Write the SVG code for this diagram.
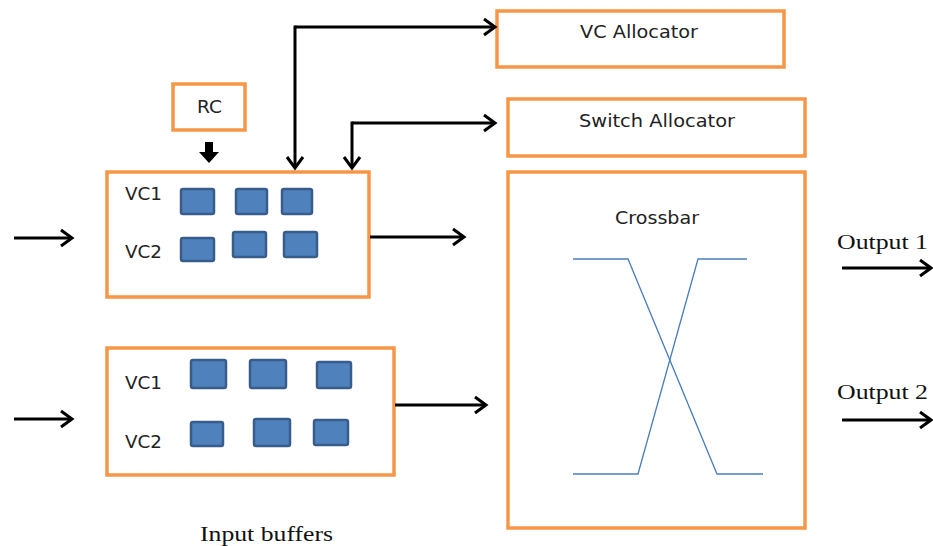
<svg xmlns="http://www.w3.org/2000/svg" width="933" height="546" viewBox="0 0 933 546">
<defs>
<style>
.box{fill:#fff;stroke:#f79646;stroke-width:3.5}
.sq{fill:#4f81bd;stroke:#385d8a;stroke-width:2.5}
.t{font-family:"DejaVu Sans","Liberation Sans",sans-serif;font-size:17px;fill:#222}
.s{font-family:"Liberation Serif","DejaVu Serif",serif;font-size:20px;fill:#111}
.c{fill:none;stroke:#000;stroke-width:3}
.x{fill:none;stroke:#4a7ebb;stroke-width:1.3}
</style>
<marker id="ah" markerWidth="10" markerHeight="10" refX="8" refY="5" orient="auto" markerUnits="userSpaceOnUse" viewBox="0 0 10 10" overflow="visible">
<path d="M-3,-3 L8,5 L-3,13" fill="none" stroke="#000" stroke-width="3"/>
</marker>
</defs>
<rect width="933" height="546" fill="#fff"/>
<g id="rc"><rect class="box" x="173" y="84" width="72" height="46"/><text class="t" x="197" y="113" textLength="25" lengthAdjust="spacingAndGlyphs">RC</text></g>
<g id="vc-allocator"><rect class="box" x="497" y="11" width="287" height="56"/><text class="t" x="580" y="38" textLength="118" lengthAdjust="spacingAndGlyphs">VC Allocator</text></g>
<g id="switch-allocator"><rect class="box" x="508" y="99" width="297" height="57"/><text class="t" x="579" y="127" textLength="156" lengthAdjust="spacingAndGlyphs">Switch Allocator</text></g>
<g id="crossbar"><rect class="box" x="508" y="172" width="297" height="356"/><text class="t" x="615" y="224" textLength="84" lengthAdjust="spacingAndGlyphs">Crossbar</text>
<polyline class="x" points="573,259 628,259 717,474 763,474"/>
<polyline class="x" points="573,474 638,474 698,259 747,259"/></g>
<g id="input-buffer-1"><rect class="box" x="107" y="172" width="262" height="125"/>
<text class="t" x="125" y="200" textLength="37" lengthAdjust="spacingAndGlyphs">VC1</text><text class="t" x="125" y="258" textLength="37" lengthAdjust="spacingAndGlyphs">VC2</text>
<rect class="sq" x="181" y="189" width="33" height="25" rx="2"/><rect class="sq" x="236" y="189" width="31" height="25" rx="2"/><rect class="sq" x="282" y="189" width="30" height="25" rx="2"/>
<rect class="sq" x="181" y="238" width="33" height="23" rx="2"/><rect class="sq" x="233" y="232" width="33" height="25" rx="2"/><rect class="sq" x="284" y="232" width="33" height="25" rx="2"/></g>
<g id="input-buffer-2"><rect class="box" x="107" y="348" width="287" height="127"/>
<text class="t" x="125" y="389" textLength="37" lengthAdjust="spacingAndGlyphs">VC1</text><text class="t" x="125" y="448" textLength="37" lengthAdjust="spacingAndGlyphs">VC2</text>
<rect class="sq" x="191" y="360" width="35" height="28" rx="2"/><rect class="sq" x="250" y="360" width="36" height="28" rx="2"/><rect class="sq" x="317" y="362" width="34" height="26" rx="2"/>
<rect class="sq" x="191" y="422" width="32" height="24" rx="2"/><rect class="sq" x="254" y="419" width="36" height="27" rx="2"/><rect class="sq" x="314" y="420" width="34" height="25" rx="2"/></g>
<g id="labels">
<text class="s" x="837" y="249" textLength="91" lengthAdjust="spacingAndGlyphs">Output 1</text>
<text class="s" x="837" y="399" textLength="91" lengthAdjust="spacingAndGlyphs">Output 2</text>
<text class="s" x="200" y="541" textLength="133" lengthAdjust="spacingAndGlyphs">Input buffers</text>
</g>
<g id="connectors">
<path d="M205,142 h8 v10 h6 l-10,11 l-10,-11 h6 z" fill="#000"/>
<polyline class="c" points="295,27 495,27" marker-end="url(#ah)"/>
<polyline class="c" points="295,25.5 295,168" marker-end="url(#ah)"/>
<polyline class="c" points="352,121.5 352,168" marker-end="url(#ah)"/>
<polyline class="c" points="352,123 495,123" marker-end="url(#ah)"/>
<line class="c" x1="14" y1="238" x2="72" y2="238" marker-end="url(#ah)"/>
<line class="c" x1="14" y1="419" x2="72" y2="419" marker-end="url(#ah)"/>
<line class="c" x1="370" y1="237" x2="464" y2="237" marker-end="url(#ah)"/>
<line class="c" x1="395" y1="405" x2="486" y2="405" marker-end="url(#ah)"/>
<line class="c" x1="842" y1="268" x2="931" y2="268" marker-end="url(#ah)" stroke-width="3.5"/>
<line class="c" x1="842" y1="420" x2="931" y2="420" marker-end="url(#ah)" stroke-width="3.5"/>
</g>
</svg>
